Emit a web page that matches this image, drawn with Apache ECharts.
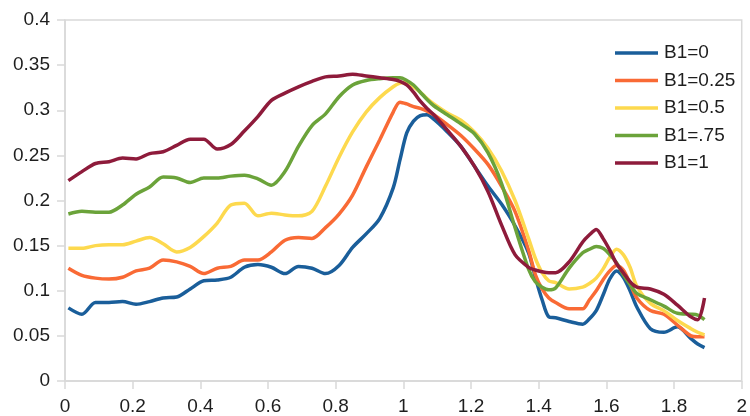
<!DOCTYPE html>
<html>
<head>
<meta charset="utf-8">
<script src="https://cdn.jsdelivr.net/npm/echarts@6/dist/echarts.min.js"></script>
<style>html,body{margin:0;padding:0;background:#fff}#c{width:750px;height:416px}</style>
</head>
<body>
<div id="c"></div>
<script>
const xs = [0.01,0.05,0.09,0.13,0.17,0.21,0.25,0.29,0.33,0.37,0.41,0.45,0.49,0.53,0.57,0.61,0.65,0.69,0.73,0.77,0.81,0.85,0.89,0.93,0.97,
  0.99,1.01,1.03,1.05,1.07,1.09,1.13,1.17,1.21,1.25,1.29,1.33,1.37,1.39,1.41,1.43,1.45,
  1.49,1.53,1.55,1.57,1.59,1.61,1.63,1.65,1.67,1.69,1.73,1.77,1.81,1.85,1.87,1.89];
const seriesNames = ['B1=0','B1=0.25','B1=0.5','B1=.75','B1=1'];
const b0 = [0.081,0.074,0.087,0.087,0.088,0.085,0.088,0.092,0.093,0.102,0.111,0.112,0.115,0.126,0.129,0.126,0.119,0.127,0.125,0.119,0.128,0.148,0.163,0.180,0.214,
  0.245,0.275,0.288,0.294,0.295,0.290,0.276,0.260,0.238,0.216,0.196,0.172,0.142,0.115,0.090,0.071,0.070,
  0.066,0.063,0.069,0.078,0.095,0.113,0.122,0.115,0.100,0.082,0.058,0.054,0.060,0.047,0.041,0.037];
const b025 = [0.125,0.117,0.114,0.113,0.115,0.122,0.125,0.134,0.132,0.127,0.119,0.125,0.127,0.134,0.134,0.143,0.156,0.159,0.158,0.170,0.185,0.206,0.237,0.267,0.298,
  0.309,0.307,0.304,0.302,0.299,0.295,0.284,0.272,0.257,0.240,0.216,0.188,0.145,0.118,0.102,0.092,0.087,
  0.080,0.080,0.090,0.100,0.112,0.122,0.128,0.123,0.108,0.092,0.078,0.074,0.062,0.050,0.049,0.049];
const b05 = [0.147,0.147,0.150,0.151,0.151,0.155,0.159,0.152,0.143,0.148,0.160,0.175,0.195,0.197,0.183,0.186,0.184,0.183,0.188,0.216,0.248,0.276,0.298,0.314,0.326,
  0.330,0.331,0.326,0.320,0.313,0.307,0.297,0.289,0.276,0.258,0.233,0.200,0.158,0.136,0.120,0.111,0.109,
  0.102,0.104,0.108,0.114,0.124,0.137,0.146,0.140,0.126,0.105,0.086,0.078,0.067,0.058,0.054,0.051];
const b075 = [0.185,0.188,0.187,0.187,0.195,0.207,0.215,0.226,0.225,0.220,0.225,0.225,0.227,0.228,0.224,0.217,0.232,0.260,0.283,0.296,0.315,0.328,0.333,0.335,0.336,
  0.336,0.333,0.328,0.320,0.312,0.305,0.295,0.285,0.274,0.253,0.219,0.170,0.124,0.110,0.104,0.101,0.103,
  0.125,0.142,0.146,0.149,0.147,0.140,0.131,0.118,0.107,0.097,0.090,0.083,0.075,0.074,0.073,0.068];
const b1 = [0.222,0.232,0.241,0.243,0.247,0.246,0.252,0.254,0.261,0.268,0.268,0.257,0.262,0.277,0.293,0.311,0.319,0.326,0.332,0.337,0.338,0.340,0.338,0.336,0.334,
  0.332,0.328,0.320,0.310,0.302,0.295,0.278,0.260,0.238,0.210,0.173,0.140,0.126,0.123,0.121,0.120,0.120,
  0.132,0.154,0.162,0.168,0.158,0.145,0.130,0.120,0.110,0.104,0.102,0.096,0.084,0.071,0.068,0.092];
const colors = ['#1a5e9a','#f96a35','#fdd94e','#6ba33a','#8e1b3b'];
const allData = [b0,b025,b05,b075,b1];

const chart = echarts.init(document.getElementById('c'), null, {renderer:'canvas'});
const font = 'Liberation Sans, Arial, sans-serif';
chart.setOption({
  animation:false,
  color: colors,
  grid:{left:65,right:3,top:20,bottom:33,show:true,borderColor:'#d9d9d9',borderWidth:1.5,containLabel:false},
  legend:{
    orient:'vertical', left:610, top:38,
    icon:'rect', itemWidth:43, itemHeight:3.5, itemGap:7.5,
    textStyle:{fontFamily:font,fontSize:19,color:'#1e1e1e',lineHeight:20,padding:[0,0,0,1]},
    data:seriesNames
  },
  xAxis:{
    type:'value', min:0, max:2, interval:0.2,
    axisLine:{show:true,lineStyle:{color:'#d9d9d9',width:1.5}},
    axisTick:{show:true,length:8,lineStyle:{color:'#d9d9d9',width:1.5}},
    axisLabel:{fontFamily:font,fontSize:19,color:'#1e1e1e',margin:16,showMaxLabel:true},
    splitLine:{show:false}
  },
  yAxis:{
    type:'value', min:0, max:0.4, interval:0.05,
    axisLine:{show:true,lineStyle:{color:'#d9d9d9',width:1.5}},
    axisTick:{show:true,length:8,lineStyle:{color:'#d9d9d9',width:1.5}},
    axisLabel:{fontFamily:font,fontSize:19,color:'#1e1e1e',margin:15},
    splitLine:{show:false}
  },
  series: seriesNames.map((n,i)=>({
    name:n, type:'line', showSymbol:false, symbol:'none', smooth:0.3,
    lineStyle:{width:3.5,color:colors[i]},
    itemStyle:{color:colors[i]},
    data: xs.map((x,j)=>[x, allData[i][j]])
  }))
});
</script>
</body>
</html>
